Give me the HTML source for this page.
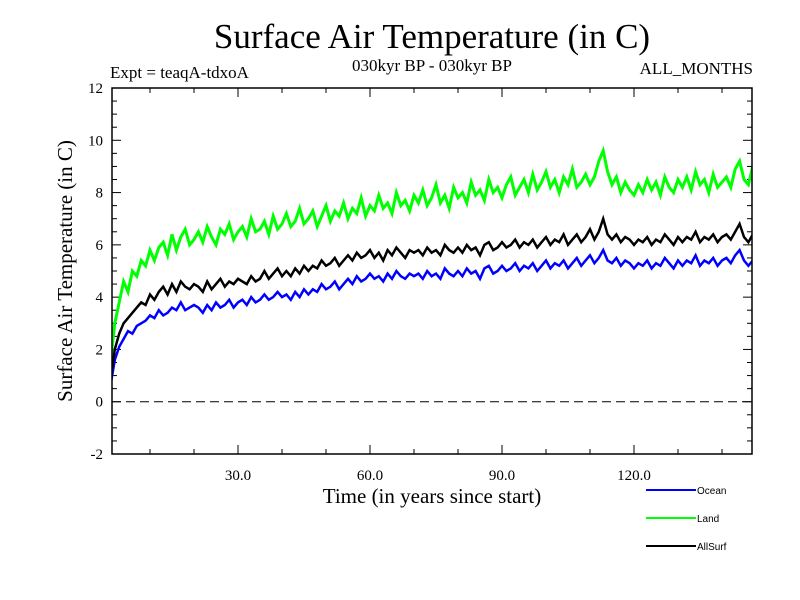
<!DOCTYPE html>
<html><head><meta charset="utf-8"><style>
html,body{margin:0;padding:0;background:#fff;}
svg{display:block;}
</style></head><body>
<svg id="chart" width="800" height="600" xmlns="http://www.w3.org/2000/svg" font-family="Liberation Serif, serif">
<text x="432" y="48" font-size="35" text-anchor="middle">Surface Air Temperature (in C)</text>
<text x="432" y="71" font-size="17" text-anchor="middle">030kyr BP - 030kyr BP</text>
<text x="110" y="78" font-size="17">Expt = teaqA-tdxoA</text>
<text x="753" y="74" font-size="17" text-anchor="end">ALL_MONTHS</text>
<text x="432" y="503" font-size="21" text-anchor="middle">Time (in years since start)</text>
<text transform="translate(72,271) rotate(-90)" font-size="21" text-anchor="middle">Surface Air Temperature (in C)</text>
<defs><clipPath id="plotclip"><rect x="112" y="88" width="640" height="366"/></clipPath></defs>
<g id="ticks"></g>
<g id="series" clip-path="url(#plotclip)"></g>
<rect x="112" y="88" width="640" height="366" fill="none" stroke="#000" stroke-width="1.5"/>
<g font-family="Liberation Sans, sans-serif" font-size="10">
 <line x1="646" y1="490" x2="696" y2="490" stroke="#0000ff" stroke-width="2"/>
 <text x="697" y="494">Ocean</text>
 <line x1="646" y1="518" x2="696" y2="518" stroke="#00ff00" stroke-width="2"/>
 <text x="697" y="522">Land</text>
 <line x1="646" y1="546" x2="696" y2="546" stroke="#000" stroke-width="2"/>
 <text x="697" y="550">AllSurf</text>
</g>
</svg>
<script>
const yTickLabels = ["-2","0","2","4","6","8","10","12"];
const yTickValues = [-2,0,2,4,6,8,10,12];
const xTickLabels = ["30.0","60.0","90.0","120.0"];
const xTickValues = [30,60,90,120];
const ocean = [0.6,1.6,2.1,2.4,2.7,2.6,2.9,3.0,3.1,3.3,
3.2,3.5,3.3,3.4,3.6,3.5,3.8,3.5,3.6,3.7,
3.6,3.4,3.7,3.5,3.8,3.6,3.7,3.9,3.6,3.8,
3.9,3.7,4.0,3.8,3.9,4.1,3.9,4.0,4.2,4.0,
4.1,3.9,4.2,4.0,4.3,4.1,4.3,4.2,4.5,4.3,
4.4,4.6,4.3,4.5,4.7,4.5,4.8,4.6,4.7,4.9,
4.7,4.8,4.6,4.9,4.7,5.0,4.8,4.7,4.9,4.8,
4.9,4.7,5.0,4.8,4.9,4.7,5.1,4.9,4.8,5.0,
4.8,5.1,4.9,5.0,4.7,5.1,5.2,4.9,5.0,5.2,
5.0,5.1,5.3,5.0,5.2,5.1,5.3,5.0,5.2,5.4,
5.1,5.3,5.2,5.4,5.1,5.3,5.5,5.2,5.4,5.6,
5.3,5.5,5.8,5.4,5.3,5.5,5.2,5.4,5.3,5.1,
5.3,5.2,5.4,5.1,5.3,5.2,5.5,5.3,5.1,5.4,
5.2,5.4,5.3,5.6,5.2,5.4,5.3,5.5,5.2,5.4,
5.5,5.3,5.6,5.8,5.4,5.2,5.4];
const land = [1.5,3.0,3.8,4.6,4.2,5.0,4.8,5.4,5.2,5.8,
5.4,5.9,6.1,5.6,6.4,5.8,6.3,6.6,6.0,6.2,
6.5,6.1,6.7,6.3,6.0,6.6,6.4,6.8,6.2,6.5,
6.7,6.3,7.0,6.5,6.6,6.9,6.4,7.1,6.6,6.8,
7.2,6.7,6.9,7.4,6.8,7.0,7.3,6.7,7.1,7.5,
6.9,7.3,7.1,7.6,7.0,7.4,7.2,7.8,7.1,7.5,
7.3,7.9,7.4,7.6,7.2,8.0,7.5,7.7,7.3,7.9,
7.6,8.1,7.5,7.8,8.3,7.6,7.9,7.4,8.2,7.8,
8.0,7.6,8.4,7.9,8.1,7.7,8.5,8.0,8.2,7.8,
8.3,8.6,7.9,8.2,8.5,8.0,8.7,8.1,8.4,8.8,
8.2,8.5,8.0,8.6,8.3,8.9,8.2,8.4,8.7,8.3,
8.6,9.2,9.6,8.8,8.3,8.6,8.0,8.4,8.1,7.9,
8.3,8.0,8.5,8.1,8.4,7.9,8.6,8.2,8.0,8.5,
8.2,8.6,8.1,8.8,8.3,8.5,8.0,8.7,8.2,8.4,
8.6,8.2,8.9,9.2,8.5,8.3,9.0];
const allSurf = [0.8,2.0,2.6,3.0,3.2,3.4,3.6,3.8,3.7,4.1,
3.9,4.2,4.4,4.1,4.5,4.2,4.6,4.4,4.3,4.5,
4.4,4.2,4.6,4.3,4.5,4.7,4.4,4.6,4.5,4.7,
4.6,4.5,4.8,4.6,4.7,5.0,4.7,4.9,5.1,4.8,
5.0,4.8,5.1,4.9,5.2,5.0,5.2,5.1,5.4,5.2,
5.3,5.5,5.2,5.4,5.6,5.4,5.7,5.5,5.6,5.8,
5.5,5.7,5.4,5.8,5.6,5.9,5.7,5.5,5.8,5.7,
5.8,5.6,5.9,5.7,5.8,5.6,6.0,5.8,5.7,5.9,
5.7,6.0,5.8,5.9,5.6,6.0,6.1,5.8,5.9,6.1,
5.9,6.0,6.2,5.9,6.1,6.0,6.2,5.9,6.1,6.3,
6.0,6.2,6.1,6.4,6.0,6.2,6.4,6.1,6.3,6.6,
6.2,6.5,7.0,6.4,6.2,6.4,6.1,6.3,6.2,6.0,
6.2,6.1,6.3,6.0,6.2,6.1,6.4,6.2,6.0,6.3,
6.1,6.3,6.2,6.5,6.1,6.3,6.2,6.4,6.1,6.3,
6.4,6.2,6.5,6.8,6.3,6.1,6.4];

const NS = "http://www.w3.org/2000/svg";
const svg = document.getElementById('chart');
const ticks = document.getElementById('ticks');
const series = document.getElementById('series');
const X0 = 112, X1 = 752, Y0 = 88, Y1 = 454;
function xScale(t){ return 106 + 4.4 * t; }
function yScale(v){ return Y1 - (v + 2) * (Y1 - Y0) / 14; }
function mk(tag, attrs){ const e = document.createElementNS(NS, tag); for (const k in attrs) e.setAttribute(k, attrs[k]); return e; }

for (let v = -2; v <= 12.001; v += 0.5) {
  const y = yScale(v);
  const major = Math.abs(v - Math.round(v / 2) * 2) < 1e-6;
  const len = major ? 9 : 5;
  const l = mk('line', {x1: X0, y1: y, x2: X0 + len, y2: y, stroke: '#000', 'stroke-width': 1});
  
  
  ticks.appendChild(l);
  const r = mk('line', {x1: X1, y1: y, x2: X1 - len, y2: y, stroke: '#000', 'stroke-width': 1});
  
  
  ticks.appendChild(r);
}
yTickValues.forEach((v, i) => {
  const t = mk('text', {x: 103, y: yScale(v) + 5, 'font-size': 15, 'text-anchor': 'end'});
  
  
  t.textContent = yTickLabels[i];
  svg.appendChild(t);
});
for (let t = 10; t <= 146; t += 10) {
  const x = xScale(t);
  const major = t % 30 === 0;
  const len = major ? 9 : 5;
  const b = mk('line', {x1: x, y1: Y1, x2: x, y2: Y1 - len, stroke: '#000', 'stroke-width': 1});
  
  
  ticks.appendChild(b);
  const tp = mk('line', {x1: x, y1: Y0, x2: x, y2: Y0 + len, stroke: '#000', 'stroke-width': 1});
  
  
  ticks.appendChild(tp);
}
xTickValues.forEach((v, i) => {
  const t = mk('text', {x: xScale(v), y: 480, 'font-size': 15, 'text-anchor': 'middle'});
  
  
  t.textContent = xTickLabels[i];
  svg.appendChild(t);
});
const z = mk('line', {x1: X0, y1: yScale(0), x2: X1, y2: yScale(0), stroke: '#000', 'stroke-width': 1, 'stroke-dasharray': '9,5'});


ticks.appendChild(z);

function drawSeries(data, color, name, w){
  const pts = data.map((v, i) => xScale(i + 1).toFixed(1) + ',' + yScale(v).toFixed(1)).join(' ');
  const p = mk('polyline', {points: pts, fill: 'none', stroke: color, 'stroke-width': w, 'stroke-linejoin': 'miter'});
  
  
  series.appendChild(p);
}
drawSeries(land, '#00ff00', 'land-line', 3);
drawSeries(ocean, '#0000ff', 'ocean-line', 2.5);
drawSeries(allSurf, '#000000', 'allsurf-line', 2.5);
</script>
</body></html>
